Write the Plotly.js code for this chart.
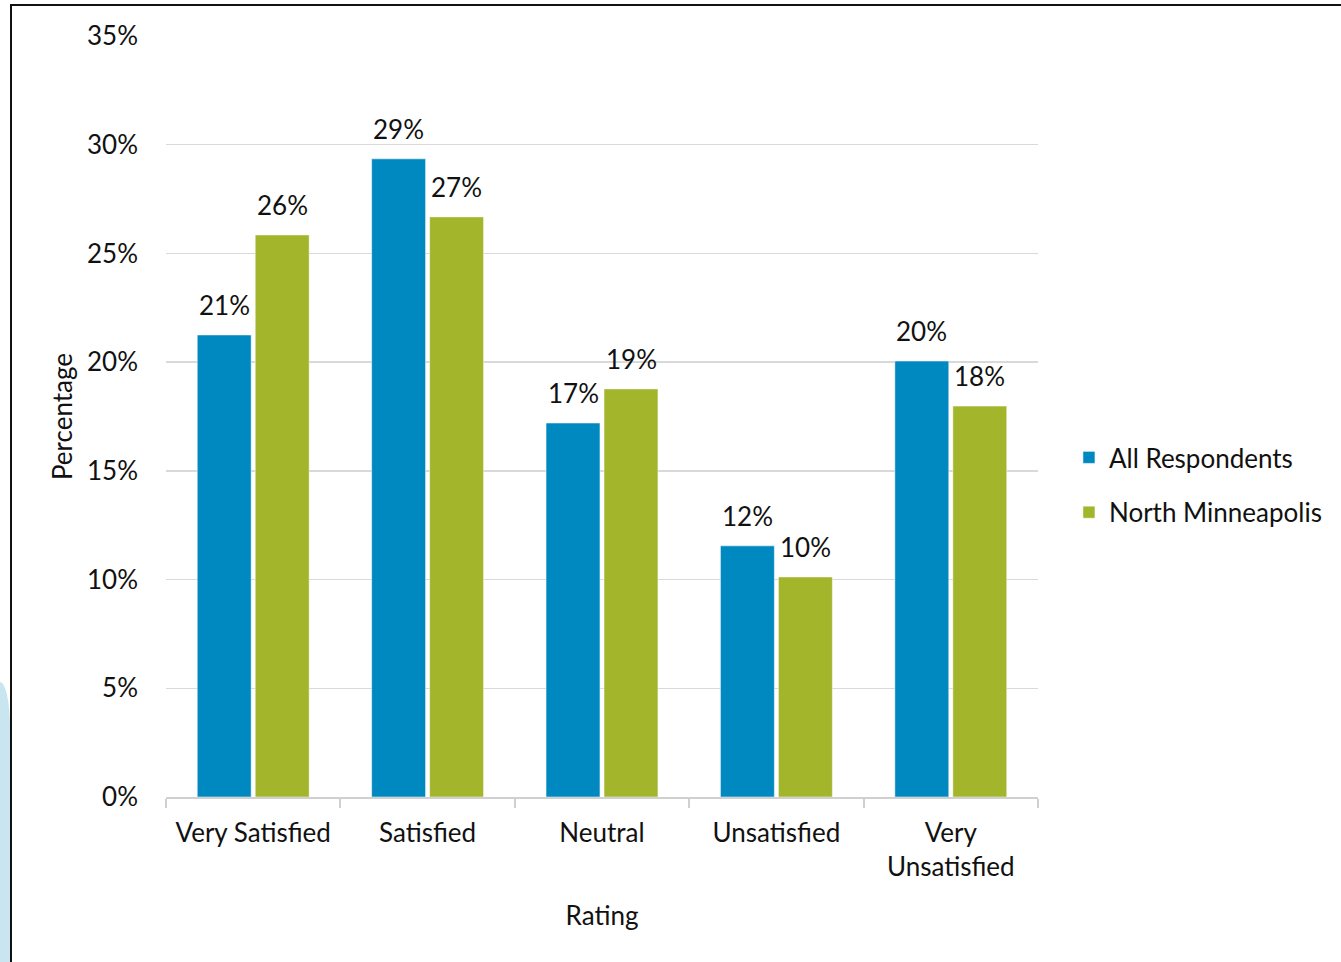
<!DOCTYPE html>
<html>
<head>
<meta charset="utf-8">
<script src="https://cdn.plot.ly/plotly-3.0.1.min.js"></script>
<style>
  html, body { margin: 0; padding: 0; background: #fff; }
  #wrap { position: relative; width: 1341px; height: 962px; overflow: hidden; }
  #chart { position: absolute; left: 0; top: 0; width: 1341px; height: 962px; }
  #frame { position: absolute; left: 10px; top: 4px; width: 1341px; height: 970px;
           border-left: 2px solid #111; border-top: 2px solid #111; pointer-events: none; }
  #deco { position: absolute; left: 0; top: 682px; width: 10px; height: 300px;
          border-top-right-radius: 10px 45px; background: #c9e5f0; pointer-events: none; }
</style>
</head>
<body>
<div id="wrap">
  <div id="deco"></div>
  <div id="chart"></div>
  <div id="frame"></div>
</div>
<script>
const categories = ["Very Satisfied", "Satisfied", "Neutral", "Unsatisfied", "Very<br>Unsatisfied"];
const allRespondents = [21.25, 29.35, 17.2, 11.55, 20.05];
const northMinneapolis = [25.85, 26.68, 18.77, 10.12, 17.98];
const seriesNames = ["All Respondents", "North Minneapolis"];
const yTickVals = [0, 5, 10, 15, 20, 25, 30, 35];
const yTickText = ["0%", "5%", "10%", "15%", "20%", "25%", "30%", "35%"];

const FONT = "Lato, 'Open Sans', sans-serif";
const FS = 26;
const INK = "#111";

function barTrace(name, vals, color, grp) {
  return {
    type: "bar",
    name: name,
    legendgroup: grp,
    x: categories,
    y: vals,
    marker: { color: color, line: { color: "#ffffff", width: 0.5 } },
    hoverinfo: "skip"
  };
}

const data = [
  barTrace(seriesNames[0], allRespondents, "#0089c1", "a"),
  barTrace(seriesNames[1], northMinneapolis, "#a3b52b", "b")
];

function labels(vals, shift) {
  return vals.map((v, i) => ({
    x: categories[i], y: v, xref: "x", yref: "y",
    text: Math.round(v) + "%",
    showarrow: false, xanchor: "center", yanchor: "bottom",
    xshift: shift, yshift: 12,
    font: { family: FONT, size: FS, color: INK }
  }));
}

const layout = {
  width: 1341,
  height: 962,
  paper_bgcolor: "rgba(0,0,0,0)",
  plot_bgcolor: "rgba(0,0,0,0)",
  margin: { l: 166, r: 303, t: 36, b: 165 },
  barmode: "group",
  bargap: 0.335,
  bargroupgap: 0.07,
  font: { family: FONT, size: FS, color: INK },
  showlegend: true,
  legend: {
    x: 1.0355, xanchor: "left", y: 0.41, yanchor: "middle",
    font: { family: FONT, size: FS, color: INK },
    traceorder: "grouped",
    tracegroupgap: 18, itemwidth: 30
  },
  annotations: labels(allRespondents, -29).concat(labels(northMinneapolis, 29)),
  xaxis: {
    type: "category",
    showline: true, linecolor: "#d0d0d0", linewidth: 2,
    ticks: "outside", tickson: "boundaries", ticklen: 9, tickcolor: "#d0d0d0", tickwidth: 2,
    ticklabelstandoff: 12,
    tickfont: { family: FONT, size: FS, color: INK },
    showgrid: false,
    title: { text: "Rating", font: { family: FONT, size: FS, color: INK }, standoff: 26 },
    fixedrange: true
  },
  yaxis: {
    range: [0, 35],
    tickvals: yTickVals,
    ticktext: yTickText,
    showline: false,
    zeroline: false,
    showgrid: true, gridcolor: "#d9d9d9", gridwidth: 1.5,
    ticks: "", ticklabelstandoff: 27,
    tickfont: { family: FONT, size: FS, color: INK },
    title: { text: "Percentage", font: { family: FONT, size: FS, color: INK }, standoff: 6 },
    fixedrange: true
  }
};

Plotly.newPlot("chart", data, layout, { displayModeBar: false, staticPlot: true });
</script>
</body>
</html>
